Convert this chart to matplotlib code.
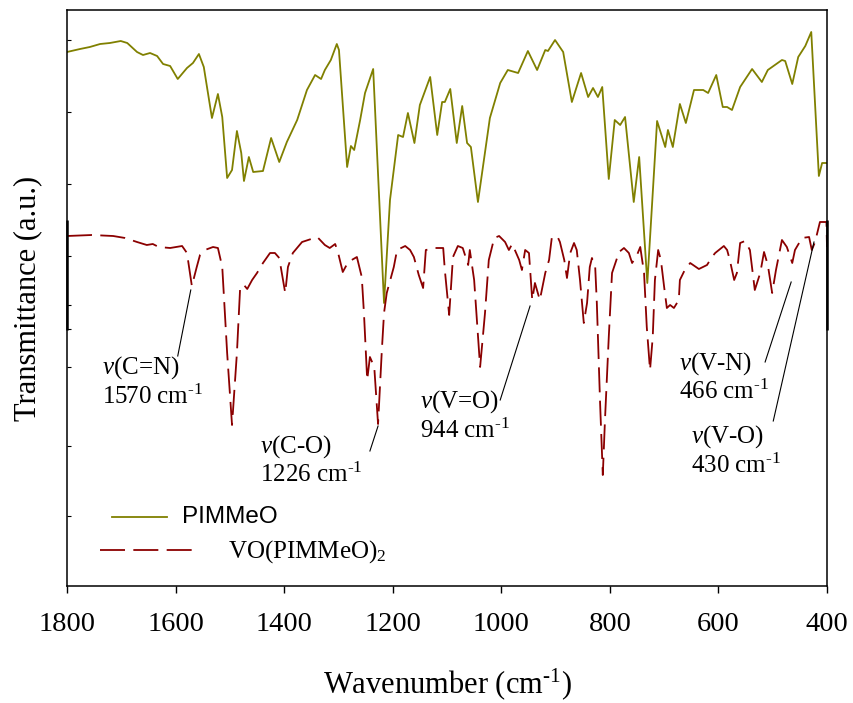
import numpy as np
import matplotlib
matplotlib.use('Agg')
import matplotlib.pyplot as plt
from matplotlib.lines import Line2D

plt.rcParams['font.family'] = ['Liberation Serif', 'DejaVu Serif']
plt.rcParams['mathtext.fontset'] = 'custom'
plt.rcParams['mathtext.rm'] = 'Liberation Serif'
plt.rcParams['mathtext.it'] = 'Liberation Serif:italic'
plt.rcParams['mathtext.bf'] = 'Liberation Serif:bold'
plt.rcParams['lines.scale_dashes'] = False

# ---------------- data (arbitrary transmittance units) ----
wn_ligand = [1800, 1776, 1758, 1739, 1721, 1701, 1689, 1671, 1660, 1647, 1634, 1623,
             1610, 1596, 1579, 1568, 1557, 1548, 1533, 1522, 1514, 1505, 1496, 1487,
             1479, 1474, 1465, 1457, 1439, 1424, 1409, 1395, 1376, 1358, 1343, 1332,
             1325, 1314, 1303, 1299, 1284, 1277, 1271, 1260, 1251, 1236, 1216, 1205,
             1190, 1181, 1172, 1160, 1150, 1131, 1118, 1109, 1104, 1094, 1082, 1072,
             1063, 1056, 1043, 1021, 1002, 988, 969, 951, 934, 919, 914, 901, 886,
             870, 853, 840, 831, 822, 814, 802, 791, 781, 772, 756, 746, 731, 713,
             698, 693, 684, 671, 660, 645, 628, 619, 604, 592, 584, 575, 560, 538,
             520, 509, 483, 477, 464, 453, 440, 429, 415, 409, 400]
t_ligand = [534, 537, 539, 542, 543, 545, 543, 534, 531, 533, 530, 522,
            520, 507, 518, 523, 532, 519, 468, 492, 469, 408, 416, 455,
            433, 405, 429, 414, 415, 448, 424, 444, 466, 496, 511, 507,
            516, 526, 542, 536, 419, 440, 436, 466, 493, 517, 283, 386,
            451, 449, 473, 443, 481, 509, 451, 484, 484, 497, 443, 480,
            443, 439, 384, 468, 503, 516, 513, 535, 516, 536, 535, 546, 534,
            484, 513, 489, 498, 489, 499, 407, 466, 461, 469, 384, 429, 303, 465,
            439, 456, 439, 482, 463, 496, 496, 493, 511, 479, 479, 476, 499, 517,
            504, 516, 526, 525, 502, 529, 540, 554, 410, 423, 423]

wn_complex = [1800, 1754, 1715, 1693, 1671, 1653, 1642, 1631, 1610, 1588, 1579, 1570,
              1561, 1555, 1546, 1531, 1522, 1514, 1505, 1496, 1487, 1481, 1474, 1468,
              1459, 1450, 1439, 1426, 1417, 1409, 1398, 1393, 1384, 1367, 1339, 1325,
              1316, 1306, 1301, 1292, 1282, 1266, 1257, 1253, 1247, 1242, 1234, 1227,
              1220, 1216, 1211, 1198, 1192, 1177, 1168, 1161, 1152, 1144, 1139, 1122,
              1107, 1104, 1096, 1089, 1080, 1071, 1061, 1058, 1050, 1045, 1039, 1030,
              1023, 1013, 1004, 993, 986, 980, 975, 967, 962, 956, 949, 943, 938, 929,
              919, 912, 907, 897, 892, 884, 879, 873, 866, 861, 855, 848, 842, 837,
              833, 827, 824, 818, 813, 809, 802, 796, 783, 774, 765, 759, 750, 744,
              737, 732, 726, 721, 717, 711, 706, 700, 695, 689, 682, 673, 671, 662,
              652, 636, 621, 612, 606, 590, 584, 579, 571, 566, 560, 551, 542, 533,
              523, 516, 509, 501, 494, 483, 474, 464, 459, 446, 433, 428, 422, 413,
              401, 400]
t_complex = [350, 351, 350, 348, 344, 341, 342, 339, 338, 340, 333, 300,
             319, 331, 336, 339, 338, 319, 233, 161, 233, 299, 301, 297,
             306, 313, 323, 333, 333, 328, 293, 319, 333, 344, 349, 341,
             338, 342, 334, 314, 324, 329, 309, 273, 206, 229, 219, 162,
             236, 273, 293, 319, 336, 340, 336, 329, 311, 298, 336, 338,
             338, 316, 271, 329, 340, 338, 321, 336, 306, 266, 219, 273,
             326, 348, 350, 344, 336, 342, 336, 326, 316, 336, 333, 286, 303, 286,
             313, 326, 348, 350, 344, 326, 308, 333, 343, 336, 306, 263, 283, 319,
             328, 319, 283, 183, 111, 166, 249, 313, 334, 338, 333, 323, 331, 339,
             313, 259, 216, 249, 306, 336, 326, 299, 278, 281, 278, 286, 306, 316,
             323, 317, 321, 329, 333, 340, 336, 326, 306, 313, 343, 345, 336, 296,
             313, 334, 321, 293, 316, 346, 339, 323, 336, 348, 349, 336, 344, 364,
             364, 339]

series_names = ['PIMMeO', 'VO(PIMMeO)$_2$']
xticks = [1800, 1600, 1400, 1200, 1000, 800, 600, 400]

# band labels: (name, wavenumber text, peak point, line start, text x, y of name, y of wn)
bands = [
    ('$v$(C=N)', '1570 cm$^{\\text{-1}}$', (1572, 296), (1596, 230), 1736, 218, 189),
    ('$v$(C-O)', '1226 cm$^{\\text{-1}}$', (1227, 160), (1242, 135), 1445, 139, 111),
    ('$v$(V=O)', '944 cm$^{\\text{-1}}$', (947, 280), (1002, 186), 1150, 184, 155),
    ('$v$(V-N)', '466 cm$^{\\text{-1}}$', (466, 304), (514, 224), 673, 222, 194),
    ('$v$(V-O)', '430 cm$^{\\text{-1}}$', (424, 344), (499, 165), 651, 149, 120),
]

green = '#808000'
red = '#8b0000'

fig = plt.figure(figsize=(8.54, 7.03), dpi=100)
ax = fig.add_axes([67 / 854, 117 / 703, 760 / 854, 576 / 703])

ax.plot(wn_ligand, t_ligand, color=green, lw=1.3, solid_joinstyle='round')
ax.plot(wn_complex, t_complex, color=red, lw=1.3, linestyle=(0, (18, 6)))

ax.set_xlim(1800, 400)
ax.set_ylim(0, 576)
ax.set_xticks(xticks)
ax.set_xticklabels([str(v) for v in xticks], fontsize=20.5)
ax.tick_params(axis='x', direction='out', length=5, width=1, pad=14)
ax.set_yticks([546, 474, 402, 330, 281, 257, 219, 140, 70])
ax.set_yticklabels([])
ax.tick_params(axis='y', direction='in', length=3, width=0.8)
for s in ax.spines.values():
    s.set_linewidth(1.1)

# darker portion of the frame
for xa in (0, 1):
    ax.plot([xa, xa], [0.444, 0.635], transform=ax.transAxes, color='black',
            lw=1.8, clip_on=False, solid_capstyle='butt')

ax.set_xlabel('Wavenumber (cm$^{\\text{-1}}$)', fontsize=22, va='center')
ax.xaxis.set_label_coords(0.5, (586 - 684) / 576)
ax.set_ylabel('Transmittance (a.u.)', fontsize=22, va='center', ha='center')
ax.yaxis.set_label_coords((28 - 67) / 760, 0.5)

for name, wtxt, peak, start, tx, ty1, ty2 in bands:
    ax.plot([peak[0], start[0]], [peak[1], start[1]], color='black', lw=0.8)
    ax.text(tx, ty1, name, fontsize=18, ha='left', va='center')
    ax.text(tx, ty2, wtxt, fontsize=18, ha='left', va='center')

# legend
ax.add_line(Line2D([0.059, 0.132], [0.120, 0.120], transform=ax.transAxes,
                   color=green, lw=1.3))
ax.text(0.151, 0.120, series_names[0], transform=ax.transAxes, fontsize=17.5,
        family=['Liberation Sans', 'DejaVu Sans'], ha='left', va='center')
ax.add_line(Line2D([0.043, 0.166], [0.0625, 0.0625], transform=ax.transAxes,
                   color=red, lw=1.3, linestyle=(0, (18, 6))))
ax.text(0.212, 0.060, series_names[1], transform=ax.transAxes, fontsize=18,
        ha='left', va='center')

fig.savefig('out.png', dpi=100)
